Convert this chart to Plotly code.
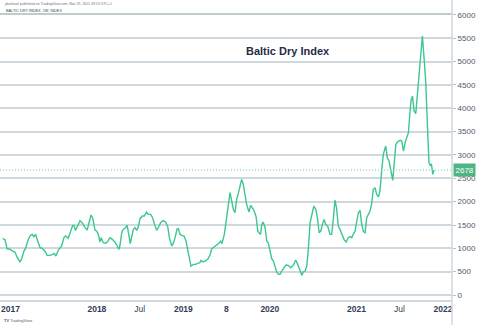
import plotly.graph_objects as go

dates = [
 "2016-11-29","2016-12-09","2016-12-18","2016-12-30","2017-01-10","2017-01-20","2017-01-30","2017-02-10",
 "2017-02-17","2017-02-27","2017-03-07","2017-03-17","2017-03-27","2017-04-03","2017-04-10","2017-04-17",
 "2017-04-24","2017-05-06","2017-05-15","2017-05-27","2017-06-05","2017-06-17","2017-06-28","2017-07-05",
 "2017-07-12","2017-07-22","2017-07-29","2017-08-05","2017-08-15","2017-08-22","2017-09-02","2017-09-09",
 "2017-09-21","2017-09-26","2017-10-02","2017-10-10","2017-10-22","2017-11-02","2017-11-12","2017-11-21",
 "2017-11-29","2017-12-07","2017-12-14","2017-12-24","2017-12-31","2018-01-07","2018-01-14","2018-01-19",
 "2018-01-28","2018-02-08","2018-02-14","2018-02-25","2018-03-07","2018-03-18","2018-03-28","2018-04-04",
 "2018-04-08","2018-04-16","2018-04-22","2018-05-02","2018-05-09","2018-05-16","2018-05-22","2018-05-28",
 "2018-06-04","2018-06-11","2018-06-18","2018-06-25","2018-07-02","2018-07-12","2018-07-20","2018-07-30",
 "2018-08-06","2018-08-16","2018-08-24","2018-08-31","2018-09-10","2018-09-17","2018-09-27","2018-10-08",
 "2018-10-18","2018-10-27","2018-11-03","2018-11-13","2018-11-19","2018-11-27","2018-12-05","2018-12-11",
 "2018-12-18","2018-12-25","2019-01-04","2019-01-12","2019-01-19","2019-01-25","2019-02-02","2019-02-12",
 "2019-02-22","2019-03-02","2019-03-12","2019-03-16","2019-03-24","2019-04-02","2019-04-14","2019-04-23",
 "2019-05-01","2019-05-12","2019-05-22","2019-05-31","2019-06-08","2019-06-13","2019-06-23","2019-06-30",
 "2019-07-10","2019-07-17","2019-07-24","2019-07-31","2019-08-07","2019-08-14","2019-08-21","2019-08-28",
 "2019-09-04","2019-09-11","2019-09-18","2019-09-25","2019-10-05","2019-10-12","2019-10-19","2019-10-27",
 "2019-11-04","2019-11-11","2019-11-16","2019-11-23","2019-11-28","2019-12-04","2019-12-12","2019-12-19",
 "2019-12-26","2020-01-02","2020-01-09","2020-01-16","2020-01-23","2020-01-30","2020-02-06","2020-02-13",
 "2020-02-20","2020-03-01","2020-03-09","2020-03-19","2020-03-29","2020-04-09","2020-04-19","2020-04-26",
 "2020-05-04","2020-05-15","2020-05-21","2020-05-29","2020-06-05","2020-06-11","2020-06-19","2020-06-26",
 "2020-07-05","2020-07-14","2020-07-21","2020-07-27","2020-08-03","2020-08-10","2020-08-17","2020-08-24",
 "2020-09-01","2020-09-11","2020-09-18","2020-09-25","2020-10-02","2020-10-09","2020-10-16","2020-10-23",
 "2020-10-30","2020-11-09","2020-11-18","2020-11-27","2020-12-05","2020-12-12","2020-12-18","2020-12-26",
 "2021-01-02","2021-01-09","2021-01-16","2021-01-23","2021-01-30","2021-02-06","2021-02-13","2021-02-20",
 "2021-02-27","2021-03-06","2021-03-13","2021-03-20","2021-03-27","2021-04-03","2021-04-10","2021-04-17",
 "2021-04-24","2021-05-04","2021-05-11","2021-05-18","2021-05-25","2021-06-03","2021-06-10","2021-06-16",
 "2021-06-24","2021-07-04","2021-07-11","2021-07-18","2021-07-25","2021-08-01","2021-08-08","2021-08-15",
 "2021-08-19","2021-08-25","2021-09-01","2021-09-08","2021-09-15","2021-09-22","2021-09-29","2021-10-06",
 "2021-10-13","2021-10-20","2021-10-27","2021-11-03","2021-11-09","2021-11-13","2021-11-19","2021-11-24",
]

bdi = [
 1207,1190,990,980,940,920,800,714,
 764,940,1014,1190,1280,1300,1250,1300,
 1190,1014,1000,940,850,850,870,890,
 835,964,1000,1050,1230,1264,1214,1335,
 1493,1493,1385,1464,1593,1535,1442,1392,
 1585,1714,1657,1392,1371,1300,1135,1228,
 1121,1107,1135,1228,1192,1135,1050,978,
 1050,1335,1407,1442,1493,1300,1100,1250,
 1407,1442,1385,1464,1635,1692,1692,1778,
 1728,1728,1657,1535,1385,1442,1550,1593,
 1564,1464,1228,1050,1100,1228,1407,1421,
 1300,1278,1264,1157,978,800,620,657,
 657,678,692,743,707,728,764,850,
 992,1035,1064,1107,1157,1100,1300,1564,
 1870,2192,2014,1835,1764,2050,2178,2335,
 2478,2371,2157,1942,1778,1921,1871,1800,
 1678,1371,1335,1300,1514,1564,1443,1157,
 1107,942,778,728,585,493,443,443,
 514,585,643,636,585,636,750,678,
 585,421,493,514,621,942,1550,1728,
 1907,1821,1621,1335,1371,1514,1621,1514,
 1478,1300,1300,1621,2035,1850,1478,1407,
 1300,1192,1135,1228,1250,1228,1300,1371,
 1585,1764,1814,1514,1357,1335,1657,1728,
 1800,1957,2264,2300,2157,2100,2228,2657,
 3014,3192,2942,2871,2671,2457,2871,3228,
 3285,3314,3300,3085,3264,3357,3478,3943,
 4157,4264,3943,3885,4300,4657,5193,5550,
 5085,4585,3657,2835,2764,2814,2585,2678,
]

last_value = 2678
x_tick_dates = ["2017-01-01","2018-01-01","2018-07-01","2019-01-01","2019-07-01",
                "2020-01-01","2021-01-01","2021-07-01","2022-01-01"]
x_tick_text = ["<b>2017</b>","<b>2018</b>","Jul","<b>2019</b>","<b>8</b>",
               "<b>2020</b>","<b>2021</b>","Jul","<b>2022</b>"]
y_ticks = list(range(0, 6001, 500))

line_green = "#3cc78c"
grid = "#cfd8df"
font = "Liberation Sans"

fig = go.Figure()
fig.add_trace(go.Scatter(x=dates, y=bdi, mode="lines",
                         line=dict(color=line_green, width=1.4), hoverinfo="skip"))

fig.update_layout(
    width=480, height=325,
    margin=dict(l=0, r=28, t=14, b=25),
    paper_bgcolor="white", plot_bgcolor="white",
    showlegend=False,
    xaxis=dict(type="date", range=["2016-11-18", "2022-02-08"],
               tickvals=x_tick_dates, ticktext=x_tick_text,
               showgrid=False, zeroline=False,
               showline=True, linecolor=grid, linewidth=1.5,
               ticks="", tickfont=dict(family=font, size=8.5, color="#2f3d57")),
    yaxis=dict(side="right", range=[-107, 6021], tickvals=y_ticks,
               showgrid=True, gridcolor=grid, gridwidth=1.5,
               zeroline=False, showline=False,
               ticks="outside", ticklen=3, tickcolor="#b8c2ca", tickwidth=1,
               tickfont=dict(family=font, size=8, color="#50596a")),
    shapes=[
        dict(type="line", xref="paper", yref="paper", x0=0, x1=1, y0=1.0, y1=1.0,
             line=dict(color="#a8bdbb", width=1.5)),
        dict(type="line", xref="paper", yref="paper", x0=1, x1=1, y0=-0.1, y1=1.06,
             line=dict(color=grid, width=1.5)),
        dict(type="line", xref="paper", yref="y", x0=0, x1=1, y0=last_value, y1=last_value,
             line=dict(color="#6fcf9f", width=1, dash="1px,2px")),
    ],
    annotations=[
        dict(text="<b>Baltic Dry Index</b>", xref="x", yref="y", x="2019-09-14", y=5220,
             xanchor="left", yanchor="middle", showarrow=False,
             font=dict(family=font, size=11, color="#1f2d47")),
        dict(text="jdavlanol published on TradingView.com, Nov 29, 2021 09:13 UTC+1",
             xref="paper", yref="paper", x=0.005, y=1.0, yshift=10, xanchor="left", yanchor="middle",
             showarrow=False, font=dict(family=font, size=3.5, color="#6a6f78")),
        dict(text="BALTIC DRY INDEX, 1W, INDEX",
             xref="paper", yref="paper", x=0.008, y=1.0, yshift=3, xanchor="left", yanchor="middle",
             showarrow=False, font=dict(family=font, size=3.8, color="#3a4560")),
        dict(text=str(last_value), xref="paper", yref="y", x=1, y=last_value,
             xanchor="left", yanchor="middle", xshift=1, showarrow=False,
             bgcolor="#4fb483", borderpad=1.5,
             font=dict(family=font, size=8, color="white")),
        dict(text="<b>TV</b> TradingView", xref="paper", yref="paper", x=0.005, y=0, yshift=-20,
             xanchor="left", yanchor="middle", showarrow=False,
             font=dict(family=font, size=4, color="#5a6070")),
    ],
)

fig.write_html("out.html")
